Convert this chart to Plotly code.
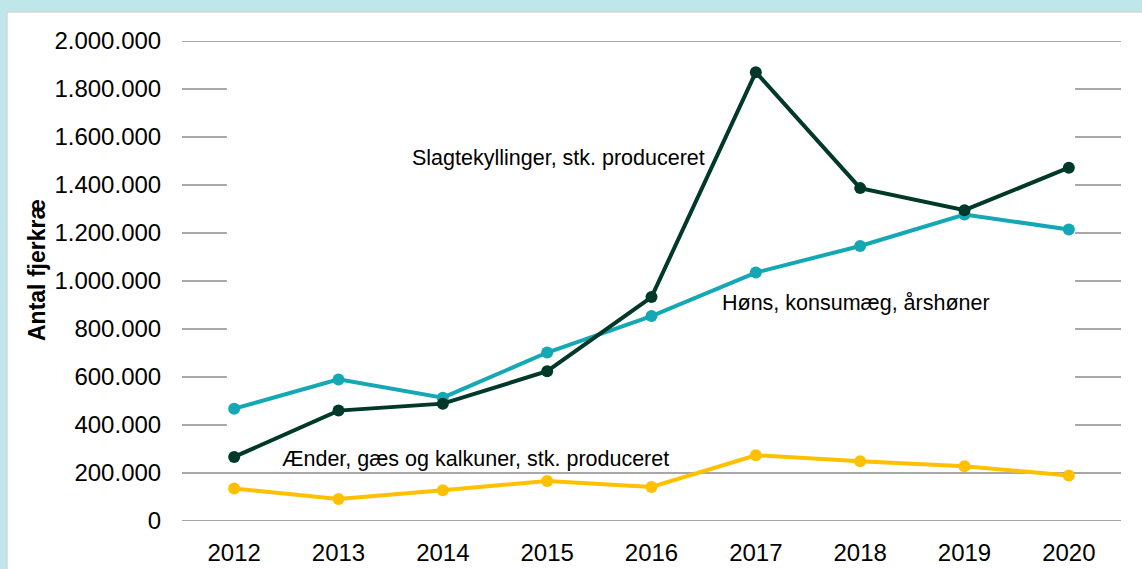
import plotly.graph_objects as go

years = [2012, 2013, 2014, 2015, 2016, 2017, 2018, 2019, 2020]
slagtekyllinger = [267000, 460000, 489000, 624000, 933000, 1870000, 1387000, 1295000, 1472000]
hons = [468000, 590000, 514000, 702000, 854000, 1035000, 1146000, 1277000, 1215000]
aender = [135000, 92000, 128000, 167000, 142000, 274000, 249000, 228000, 190000]
ytick_vals = [0, 200000, 400000, 600000, 800000, 1000000, 1200000, 1400000, 1600000, 1800000, 2000000]
full_grid = [0, 200000, 2000000]

series = [
    ("Høns, konsumæg, årshøner", hons, "#13a8b4"),
    ("Slagtekyllinger, stk. produceret", slagtekyllinger, "#00382a"),
    ("Ænder, gæs og kalkuner, stk. produceret", aender, "#ffc000"),
]

FONT = "Liberation Sans, Arial, sans-serif"

fig = go.Figure()
for name, vals, col in series:
    fig.add_trace(go.Scatter(
        x=years, y=vals, name=name, mode="lines+markers",
        line=dict(color=col, width=4),
        marker=dict(color=col, size=12),
        showlegend=False, cliponaxis=False,
    ))

shapes = []
# outer white panel
shapes.append(dict(type="rect", xref="paper", yref="paper",
                   x0=(7 - 182) / 939, x1=(1150 - 182) / 939,
                   y0=-0.2, y1=(521 - 12) / 480,
                   fillcolor="white", line=dict(color="#d6d6d6", width=1.5), layer="below"))
for v in ytick_vals:
    if v in full_grid:
        shapes.append(dict(type="line", xref="x", yref="y", x0=2011.5, x1=2020.5, y0=v, y1=v,
                           line=dict(color="#8a8a8a", width=1.5), layer="below"))
    else:
        shapes.append(dict(type="line", xref="x", yref="y", x0=2011.5, x1=2011.93, y0=v, y1=v,
                           line=dict(color="#8a8a8a", width=1.5), layer="below"))
        shapes.append(dict(type="line", xref="x", yref="y", x0=2020.06, x1=2020.5, y0=v, y1=v,
                           line=dict(color="#8a8a8a", width=1.5), layer="below"))

annotations = [
    dict(x=2013.685, y=1511000, xref="x", yref="y", text="Slagtekyllinger, stk. produceret",
         showarrow=False, xanchor="left", yanchor="middle", font=dict(size=21.5, color="black", family=FONT)),
    dict(x=2016.657, y=907000, xref="x", yref="y", text="Høns, konsumæg, årshøner",
         showarrow=False, xanchor="left", yanchor="middle", font=dict(size=21.5, color="black", family=FONT)),
    dict(x=2012.438, y=260000, xref="x", yref="y", text="Ænder, gæs og kalkuner, stk. produceret",
         showarrow=False, xanchor="left", yanchor="middle", font=dict(size=21.5, color="black", family=FONT)),
    dict(x=(37 - 182) / 939, y=(521 - 270) / 480, xref="paper", yref="paper", text="<b>Antal fjerkræ</b>",
         textangle=-90, showarrow=False, xanchor="center", yanchor="middle",
         font=dict(size=23, color="black", family=FONT)),
]

fig.update_layout(
    width=1142, height=569,
    margin=dict(l=182, r=21, t=41, b=48, autoexpand=False),
    paper_bgcolor="#bfe6e8", plot_bgcolor="white",
    separators=",.",
    font=dict(family=FONT, size=24, color="black"),
    shapes=shapes, annotations=annotations,
    xaxis=dict(range=[2011.5, 2020.5], tickvals=years, ticktext=[str(y) for y in years],
               showgrid=False, zeroline=False, showline=False,
               ticks="outside", ticklen=10, tickcolor="rgba(0,0,0,0)",
               tickfont=dict(size=24, family=FONT, color="black")),
    yaxis=dict(range=[0, 2000000], tickvals=ytick_vals, tickformat=",d",
               showgrid=False, zeroline=False, showline=False,
               ticks="outside", ticklen=15, tickcolor="rgba(0,0,0,0)",
               tickfont=dict(size=24, family=FONT, color="black")),
)

fig.write_html("out.html")
